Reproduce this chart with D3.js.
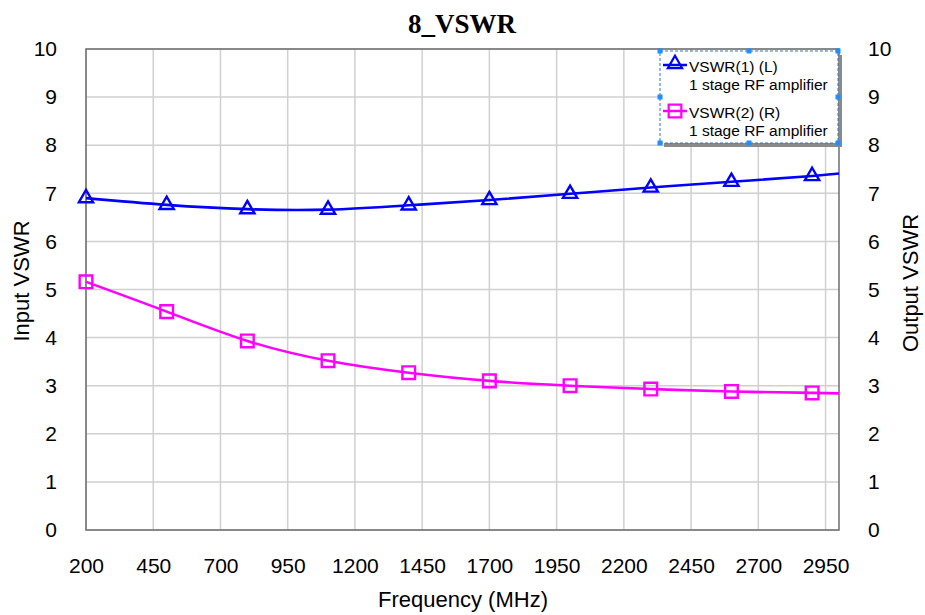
<!DOCTYPE html>
<html>
<head>
<meta charset="utf-8">
<script src="https://cdn.jsdelivr.net/npm/d3@7"></script>
<style>
  body { margin: 0; background: #fff; }
  text { font-family: "Liberation Sans", Arial, sans-serif; fill: #000; }
</style>
</head>
<body>
<div id="graph-container"></div>
<script>
const WIDTH = 925,
    HEIGHT = 615;

const margin = { top: 49, bottom: 85, left: 86, right: 86 };

const width = WIDTH - margin.left - margin.right,
    height = HEIGHT - margin.top - margin.bottom;

// data
const freqs = [200, 500, 800, 1100, 1400, 1700, 2000, 2300, 2600, 2900, 3000];
const vswr1 = [6.90, 6.76, 6.67, 6.66, 6.75, 6.86, 6.99, 7.12, 7.24, 7.36, 7.41];
const vswr2 = [5.16, 4.54, 3.93, 3.52, 3.27, 3.10, 3.00, 2.93, 2.88, 2.85, 2.84];
const xTicks = [200, 450, 700, 950, 1200, 1450, 1700, 1950, 2200, 2450, 2700, 2950];
const yTicks = [0, 1, 2, 3, 4, 5, 6, 7, 8, 9, 10];
const seriesNames = ["VSWR(1) (L)", "VSWR(2) (R)"];
const seriesSub = "1 stage RF amplifier";
const colors = ["#0000ff", "#ff00ff"];

const svg = d3.select("#graph-container")
    .append("svg")
    .attr("width", WIDTH)
    .attr("height", HEIGHT);

const g = svg.append("g")
    .attr("transform", `translate(${margin.left}, ${margin.top})`);

const escalaX = d3.scaleLinear().domain([200, 3000]).range([0, width]);
const escalaYL = d3.scaleLinear().domain([0, 10]).range([height, 0]);
const escalaYR = d3.scaleLinear().domain([0, 10]).range([height, 0]);

// grid
g.append("g")
    .selectAll("line")
    .data(xTicks)
    .join("line")
    .attr("x1", d => escalaX(d)).attr("x2", d => escalaX(d))
    .attr("y1", 0).attr("y2", height)
    .attr("stroke", "#d0d0d0").attr("stroke-width", 1.5);

g.append("g")
    .selectAll("line")
    .data(yTicks)
    .join("line")
    .attr("x1", 0).attr("x2", width)
    .attr("y1", d => escalaYL(d)).attr("y2", d => escalaYL(d))
    .attr("stroke", "#d0d0d0").attr("stroke-width", 1.5);

// frame
g.append("rect")
    .attr("width", width).attr("height", height)
    .attr("fill", "none").attr("stroke", "#6e6e6e").attr("stroke-width", 1.5);

// axes (labels only)
const xAxis = g.append("g")
    .attr("transform", `translate(0, ${height})`)
    .call(d3.axisBottom(escalaX).tickValues(xTicks).tickSize(0).tickPadding(28).tickFormat(d3.format("d")));

const yAxisL = g.append("g")
    .call(d3.axisLeft(escalaYL).tickValues(yTicks).tickSize(0).tickPadding(29));

const yAxisR = g.append("g")
    .attr("transform", `translate(${width}, 0)`)
    .call(d3.axisRight(escalaYR).tickValues(yTicks).tickSize(0).tickPadding(29));

[xAxis, yAxisL, yAxisR].forEach(a => {
    a.select(".domain").remove();
    a.selectAll("text")
        .style("font-family", "'Liberation Sans', Arial, sans-serif")
        .style("font-size", "21px")
        .attr("fill", "#000");
});

// titles
svg.append("text")
    .attr("x", 462).attr("y", 33)
    .attr("text-anchor", "middle")
    .style("font-family", "'Liberation Serif', 'Times New Roman', serif")
    .style("font-weight", "bold")
    .style("font-size", "27px")
    .text("8_VSWR");

svg.append("text")
    .attr("x", 463).attr("y", 607)
    .attr("text-anchor", "middle")
    .style("font-size", "22px")
    .text("Frequency (MHz)");

svg.append("text")
    .attr("transform", "translate(29, 281) rotate(-90)")
    .attr("text-anchor", "middle")
    .style("font-size", "22px")
    .text("Input VSWR");

svg.append("text")
    .attr("transform", "translate(918, 283) rotate(-90)")
    .attr("text-anchor", "middle")
    .style("font-size", "22px")
    .text("Output VSWR");

// lines
const lineL = d3.line()
    .curve(d3.curveNatural)
    .x((d, i) => escalaX(freqs[i]))
    .y(d => escalaYL(d));

const lineR = d3.line()
    .curve(d3.curveNatural)
    .x((d, i) => escalaX(freqs[i]))
    .y(d => escalaYR(d));

g.append("path")
    .attr("d", lineL(vswr1))
    .attr("fill", "none").attr("stroke", colors[0]).attr("stroke-width", 2.6);

g.append("path")
    .attr("d", lineR(vswr2))
    .attr("fill", "none").attr("stroke", colors[1]).attr("stroke-width", 2.6);

const triangle = d3.symbol().type(d3.symbolTriangle).size(88);
const square = d3.symbol().type(d3.symbolSquare).size(160);

// markers on every point but the end point
g.append("g")
    .selectAll("path")
    .data(vswr1.slice(0, -1))
    .join("path")
    .attr("d", triangle)
    .attr("transform", (d, i) => `translate(${escalaX(freqs[i])}, ${escalaYL(d)})`)
    .attr("fill", "none").attr("stroke", colors[0]).attr("stroke-width", 2.4);

g.append("g")
    .selectAll("path")
    .data(vswr2.slice(0, -1))
    .join("path")
    .attr("d", square)
    .attr("transform", (d, i) => `translate(${escalaX(freqs[i])}, ${escalaYR(d)})`)
    .attr("fill", "none").attr("stroke", colors[1]).attr("stroke-width", 2.4);

// legend
const lx = 660, ly = 51, lw = 178, lh = 92;
const legend = svg.append("g");

legend.append("rect")
    .attr("x", lx + 4).attr("y", ly + 4).attr("width", lw).attr("height", lh)
    .attr("fill", "#8a8a8a");
legend.append("rect")
    .attr("x", lx).attr("y", ly).attr("width", lw).attr("height", lh)
    .attr("fill", "#fff")
    .attr("stroke", "#2f73c9").attr("stroke-width", 1)
    .attr("stroke-dasharray", "3,2");

const handles = [
    [lx, ly], [lx + lw / 2, ly], [lx + lw, ly],
    [lx, ly + lh / 2], [lx + lw, ly + lh / 2],
    [lx, ly + lh], [lx + lw / 2, ly + lh], [lx + lw, ly + lh]
];
legend.selectAll(".handle")
    .data(handles)
    .join("rect")
    .attr("class", "handle")
    .attr("x", d => d[0] - 2.5).attr("y", d => d[1] - 2.5)
    .attr("width", 5).attr("height", 5)
    .attr("fill", "#1f8fff");

const entries = legend.selectAll(".entry")
    .data(seriesNames)
    .join("g")
    .attr("class", "entry")
    .attr("transform", (d, i) => `translate(${lx}, ${ly + 14 + i * 46})`);

entries.append("line")
    .attr("x1", 3).attr("x2", 27)
    .attr("stroke", (d, i) => colors[i]).attr("stroke-width", 2.5);

entries.append("path")
    .attr("d", (d, i) => i === 0 ? triangle() : square())
    .attr("transform", (d, i) => i === 0 ? "translate(15, -1)" : "translate(15, 0)")
    .attr("fill", "none")
    .attr("stroke", (d, i) => colors[i]).attr("stroke-width", 2.2);

entries.append("text")
    .attr("x", 29).attr("y", 6.5)
    .style("font-size", "15.5px")
    .text(d => d);

entries.append("text")
    .attr("x", 29).attr("y", 24.5)
    .style("font-size", "15.5px")
    .text(seriesSub);
</script>
</body>
</html>
